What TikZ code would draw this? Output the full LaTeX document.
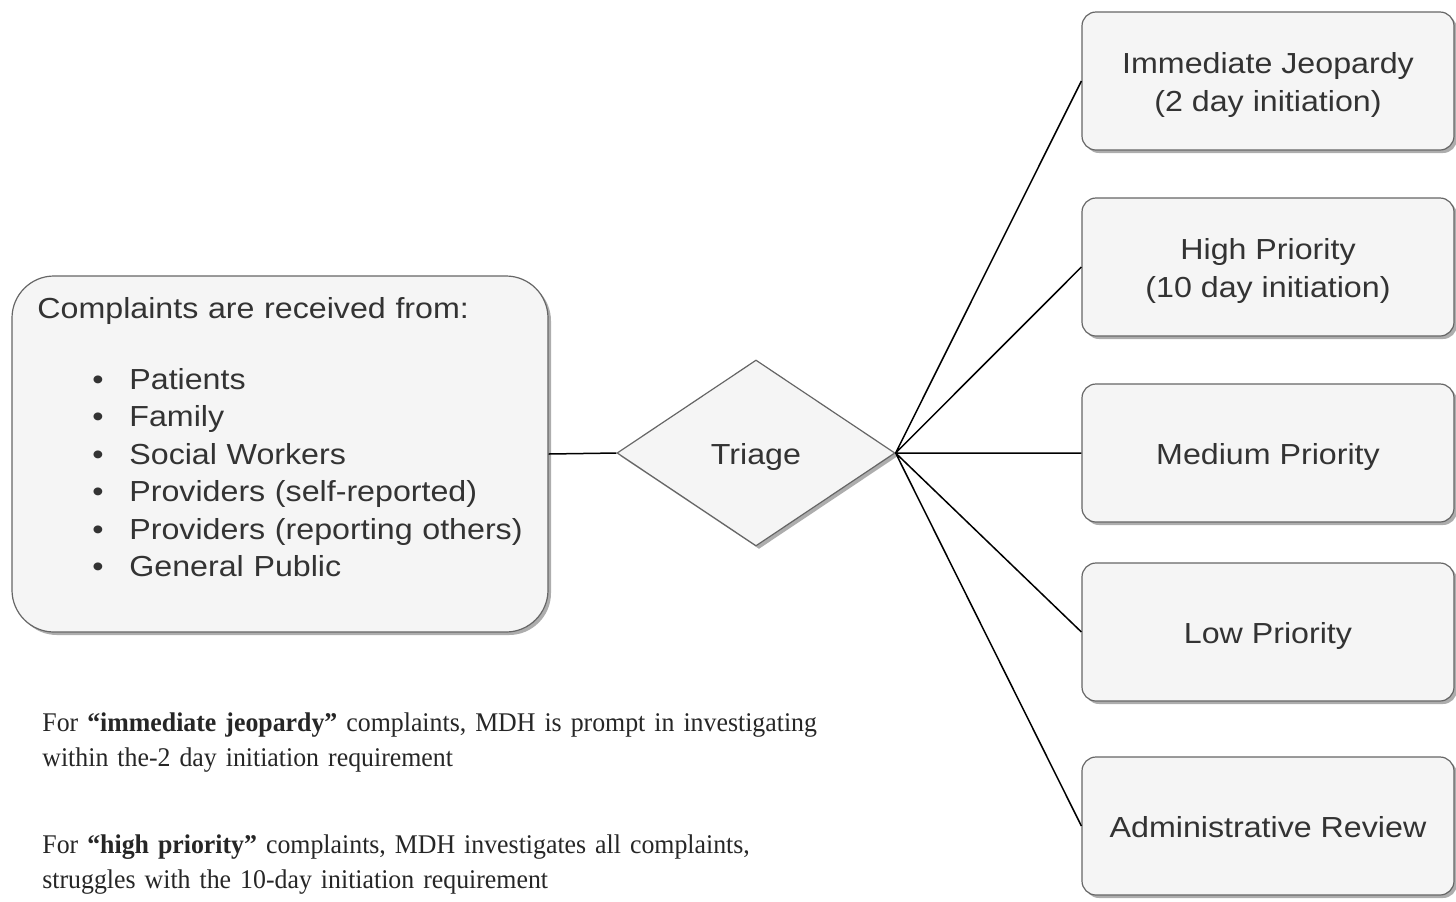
\documentclass[tikz,border=0pt]{standalone}
\usepackage{fontspec}
\setmainfont{Liberation Sans}[FakeStretch=1.11]
\newfontfamily\notefont{Liberation Serif}[FakeStretch=0.957, Ligatures=TeX]
\usetikzlibrary{shapes.geometric,shadows}
\definecolor{boxfill}{HTML}{F5F5F5}
\definecolor{boxline}{HTML}{666666}
\definecolor{txt}{HTML}{333333}
\newcommand{\itm}[1]{\hspace*{27.5pt}\makebox[18.5pt][l]{\textbullet}#1}
\newcommand{\tp}{\rule[-3pt]{0pt}{17.5pt}}

\begin{document}
\begin{tikzpicture}[
    x=0.5pt, y=-0.5pt,
    shd/.style={drop shadow={shadow xshift=1.5pt, shadow yshift=-1.5pt, fill=black!32, opacity=1}},
    box/.style={rectangle, rounded corners=7pt, draw=boxline, fill=boxfill, line width=0.6pt,
      minimum width=186pt, minimum height=69pt, inner sep=0pt, align=center, text=txt,
      font=\fontsize{14.5}{19}\selectfont, shd},
    dia/.style={diamond, aspect=1.5, draw=boxline, fill=boxfill, line width=0.6pt,
      minimum width=139pt, minimum height=93pt, inner sep=0pt, text=txt,
      font=\fontsize{14.5}{19}\selectfont, shd},
    note/.style={anchor=base west, inner sep=0pt, text width=420pt, align=left,
      text=black!85, font=\notefont\fontsize{13.5}{17.5}\selectfont}
  ]
    \useasboundingbox (0,0) rectangle (1456,901);

    % sources
    \node[box, rounded corners=21pt, minimum width=268pt, minimum height=178pt] (cmp) at (280,454) {};
    \node[anchor=base west, inner sep=0pt, text width=260pt, align=left, text=txt,
      font=\fontsize{14.5}{18.75}\selectfont] (src) at (37,318)
      {Complaints are received from:\\[16.75pt]
       \itm{Patients}\\
       \itm{Family}\\
       \itm{Social Workers}\\
       \itm{Providers (self-reported)}\\
       \itm{Providers (reporting others)}\\
       \itm{General Public}};

    \node[dia] (tri) at (756,453) {\tp Triage};

    % priorities
    \node[box] (ij) at (1268,81) {\tp Immediate Jeopardy\\\tp(2 day initiation)};
    \node[box] (hp) at (1268,267) {\tp High Priority\\\tp(10 day initiation)};
    \node[box] (mp) at (1268,453) {\tp Medium Priority};
    \node[box] (lp) at (1268,632) {\tp Low Priority};
    \node[box] (ar) at (1268,826) {\tp Administrative Review};

    \draw[line width=0.75pt] (cmp.east)--(tri.west);
    \draw[line width=0.75pt] (tri.east)--(ij.west) (tri.east)--(hp.west) (tri.east)--(mp.west)
      (tri.east)--(lp.west) (tri.east)--(ar.west);

    % notes
    \node[note] (n1) at (42,731) {For \textbf{“immediate jeopardy”} complaints, MDH is prompt in investigating\\
      within the-2 day initiation requirement};
    \node[note] (n2) at (42,853) {For \textbf{“high priority”} complaints, MDH investigates all complaints,\\
      struggles with the 10-day initiation requirement};
  \end{tikzpicture}
\end{document}
